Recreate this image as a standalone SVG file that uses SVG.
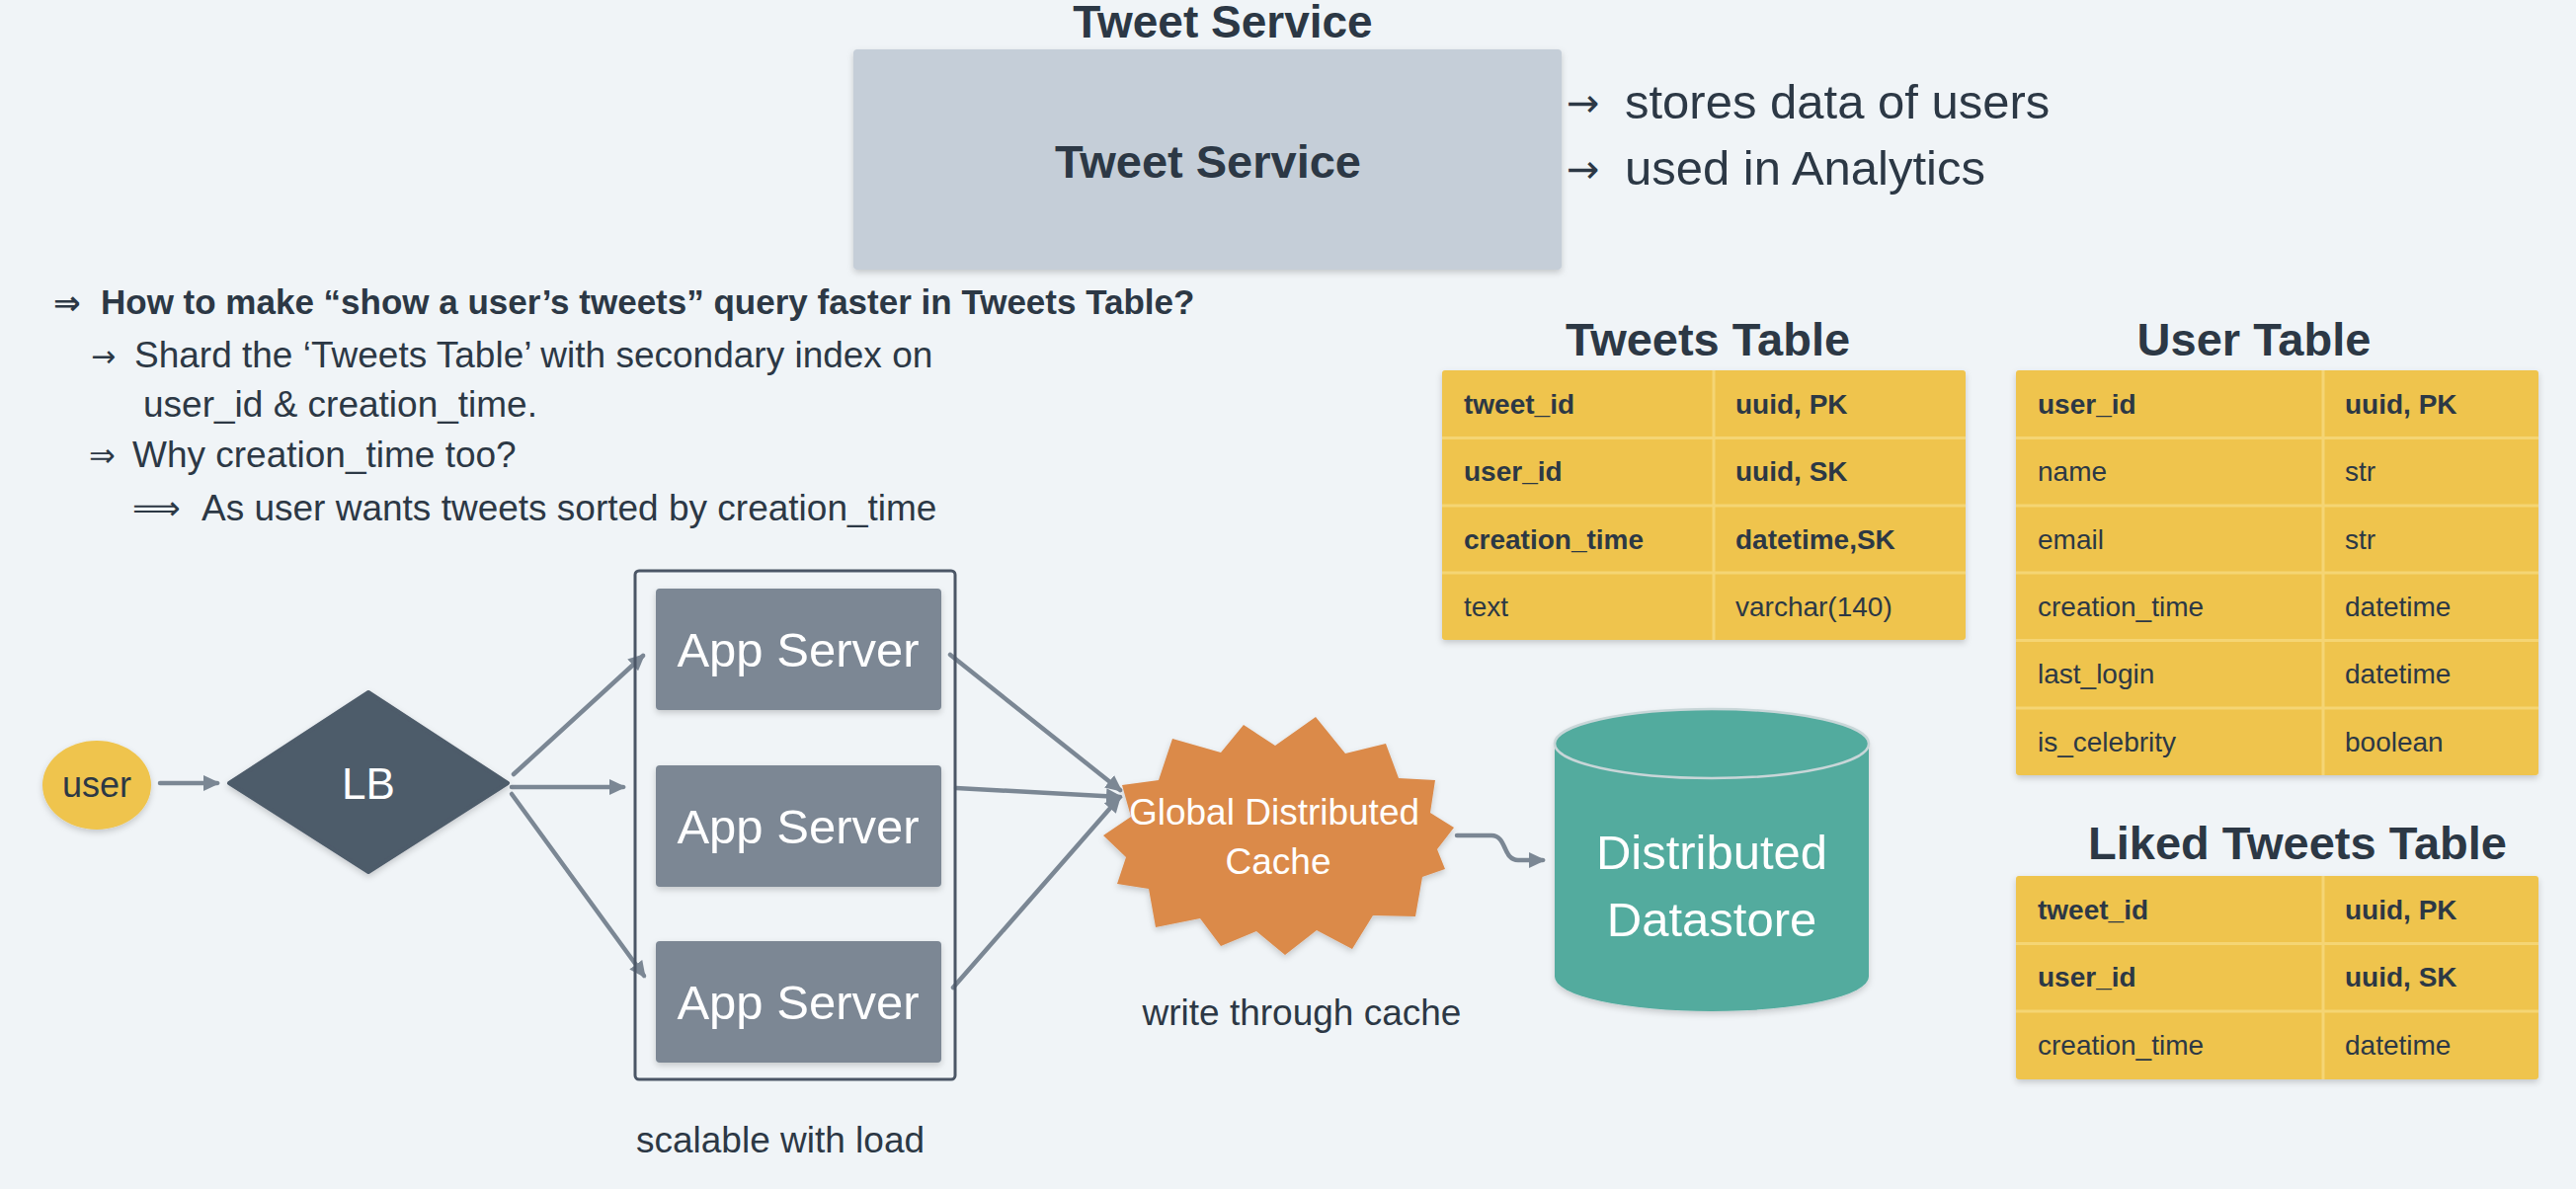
<svg xmlns="http://www.w3.org/2000/svg" width="2608" height="1204" viewBox="0 0 2608 1204">
<style>
text{font-family:"Liberation Sans",Arial,"DejaVu Sans",sans-serif;fill:#2c3845}
.b{font-weight:bold}
.w{fill:#ffffff}
.c{text-anchor:middle}
.ar{font-family:"DejaVu Sans","Liberation Sans",sans-serif}
.t28{font-size:28px}
.t37{font-size:37px}
.t47{font-size:47px}
.t49{font-size:49px}
.conn{fill:none;stroke:#7b8794;stroke-width:4.5;stroke-linecap:round}
.tbl{fill:#efc44e}
.div{stroke:#f5d574;stroke-width:3}
.app{fill:#7b8794}
</style>
<defs>
<filter id="sh" x="-10%" y="-10%" width="120%" height="130%">
<feDropShadow dx="0" dy="3" stdDeviation="3" flood-color="#000" flood-opacity="0.18"/>
</filter>
<marker id="ah" markerUnits="userSpaceOnUse" markerWidth="20" markerHeight="18" refX="14" refY="8" orient="auto">
<path d="M0,0 L17,8 L0,16 z" fill="#7b8794"/>
</marker>
</defs>
<rect width="2608" height="1204" fill="#f0f4f7"/>

<g id="tweet-service">
<text class="b c" font-size="46" x="1238" y="38">Tweet Service</text>
<rect x="864" y="50" width="717" height="223" rx="4" fill="#c5ced8" filter="url(#sh)"/>
<text class="b t47 c" x="1223" y="180">Tweet Service</text>
<text class="ar" font-size="40" x="1586" y="118">→</text>
<text class="t49" x="1645" y="120">stores data of users</text>
<text class="ar" font-size="40" x="1586" y="185">→</text>
<text class="t49" x="1645" y="187">used in Analytics</text>
</g>

<g id="notes">
<text class="b ar" font-size="33" x="54" y="318">⇒</text>
<text class="b" font-size="35" x="102" y="318">How to make “show a user’s tweets” query faster in Tweets Table?</text>
<text class="ar" font-size="30" x="92" y="371">→</text>
<text class="t37" x="136" y="372">Shard the ‘Tweets Table’ with secondary index on</text>
<text class="t37" x="145" y="422">user_id &amp; creation_time.</text>
<text class="ar" font-size="32" x="90" y="472">⇒</text>
<text class="t37" x="134" y="473">Why creation_time too?</text>
<text class="ar" font-size="34" x="134" y="526">⟹</text>
<text class="t37" x="204" y="527">As user wants tweets sorted by creation_time</text>
</g>

<g id="connectors">
<path class="conn" d="M162,793 L220,793" marker-end="url(#ah)"/>
<path class="conn" d="M520,784 L651,664" marker-end="url(#ah)"/>
<path class="conn" d="M518,797 L631,797" marker-end="url(#ah)"/>
<path class="conn" d="M518,804 L652,988" marker-end="url(#ah)"/>
<path class="conn" d="M962,663 L1134,800" marker-end="url(#ah)"/>
<path class="conn" d="M968,798 L1134,807" marker-end="url(#ah)"/>
<path class="conn" d="M965,1000 L1133,808" marker-end="url(#ah)"/>
<path class="conn" d="M1475,846 L1510,846 C1526,846 1521,871 1537,871 L1562,871" marker-end="url(#ah)"/>
</g>

<g id="user">
<ellipse cx="98" cy="795" rx="55" ry="45" fill="#efc44e" filter="url(#sh)"/>
<text class="c" font-size="36" x="98" y="807">user</text>
</g>

<g id="lb">
<path d="M373,701 L514,793 L373,883 L232,793 Z" fill="#4e5b6a" stroke="#4e5b6a" stroke-width="4" stroke-linejoin="round" filter="url(#sh)"/>
<text class="w c" font-size="44" x="373" y="809">LB</text>
</g>

<g id="app-servers">
<rect x="643" y="578" width="324" height="515" rx="4" fill="none" stroke="#4b5666" stroke-width="3"/>
<g id="app-server-1">
<rect class="app" x="664" y="596" width="289" height="123" rx="4" filter="url(#sh)"/>
<text class="w c t49" x="808" y="675">App Server</text>
</g>
<g id="app-server-2">
<rect class="app" x="664" y="775" width="289" height="123" rx="4" filter="url(#sh)"/>
<text class="w c t49" x="808" y="854">App Server</text>
</g>
<g id="app-server-3">
<rect class="app" x="664" y="953" width="289" height="123" rx="4" filter="url(#sh)"/>
<text class="w c t49" x="808" y="1032">App Server</text>
</g>
<text class="c t37" x="790" y="1167">scalable with load</text>
</g>

<g id="cache">
<polygon fill="#db8a4a" filter="url(#sh)" points="1332,726 1362,763 1403,753 1416,788 1453,790 1448,823 1472,838 1455,860 1463,880 1440,888 1433,928 1390,927 1369,961 1333,942 1301,967 1272,943 1236,958 1215,930 1170,939 1163,900 1131,895 1140,868 1117,846 1145,827 1136,795 1173,790 1187,748 1236,762 1259,734 1291,755"/>
<text class="w c t37" x="1290" y="835">Global Distributed</text>
<text class="w c t37" x="1294" y="885">Cache</text>
<text class="c t37" x="1318" y="1038">write through cache</text>
</g>

<g id="datastore">
<path d="M1574,753 A159,35 0 0 1 1892,753 L1892,989 A159,35 0 0 1 1574,989 Z" fill="#52ab9e" filter="url(#sh)"/>
<ellipse cx="1733" cy="753" rx="159" ry="35" fill="#52ab9e" stroke="#c8d6d8" stroke-width="2.5"/>
<text class="w c t49" x="1733" y="880">Distributed</text>
<text class="w c t49" x="1733" y="948">Datastore</text>
</g>

<g id="tweets-table">
<text class="b c t47" x="1729" y="360">Tweets Table</text>
<rect class="tbl" x="1460" y="375" width="530" height="273" rx="3" filter="url(#sh)"/>
<line class="div" x1="1460" y1="443.5" x2="1990" y2="443.5"/>
<line class="div" x1="1460" y1="512" x2="1990" y2="512"/>
<line class="div" x1="1460" y1="580" x2="1990" y2="580"/>
<line class="div" x1="1735" y1="375" x2="1735" y2="648"/>
<text class="b t28" x="1482" y="419">tweet_id</text>
<text class="b t28" x="1757" y="419">uuid, PK</text>
<text class="b t28" x="1482" y="487">user_id</text>
<text class="b t28" x="1757" y="487">uuid, SK</text>
<text class="b t28" x="1482" y="556">creation_time</text>
<text class="b t28" x="1757" y="556">datetime,SK</text>
<text class="t28" x="1482" y="624">text</text>
<text class="t28" x="1757" y="624">varchar(140)</text>
</g>

<g id="user-table">
<text class="b c t47" x="2282" y="360">User Table</text>
<rect class="tbl" x="2041" y="375" width="529" height="410" rx="3" filter="url(#sh)"/>
<line class="div" x1="2041" y1="443.5" x2="2570" y2="443.5"/>
<line class="div" x1="2041" y1="512" x2="2570" y2="512"/>
<line class="div" x1="2041" y1="580" x2="2570" y2="580"/>
<line class="div" x1="2041" y1="648.5" x2="2570" y2="648.5"/>
<line class="div" x1="2041" y1="717" x2="2570" y2="717"/>
<line class="div" x1="2352" y1="375" x2="2352" y2="785"/>
<text class="b t28" x="2063" y="419">user_id</text>
<text class="b t28" x="2374" y="419">uuid, PK</text>
<text class="t28" x="2063" y="487">name</text>
<text class="t28" x="2374" y="487">str</text>
<text class="t28" x="2063" y="556">email</text>
<text class="t28" x="2374" y="556">str</text>
<text class="t28" x="2063" y="624">creation_time</text>
<text class="t28" x="2374" y="624">datetime</text>
<text class="t28" x="2063" y="692">last_login</text>
<text class="t28" x="2374" y="692">datetime</text>
<text class="t28" x="2063" y="761">is_celebrity</text>
<text class="t28" x="2374" y="761">boolean</text>
</g>

<g id="liked-tweets-table">
<text class="b c t47" x="2326" y="870">Liked Tweets Table</text>
<rect class="tbl" x="2041" y="887" width="529" height="206" rx="3" filter="url(#sh)"/>
<line class="div" x1="2041" y1="955.5" x2="2570" y2="955.5"/>
<line class="div" x1="2041" y1="1024" x2="2570" y2="1024"/>
<line class="div" x1="2352" y1="887" x2="2352" y2="1093"/>
<text class="b t28" x="2063" y="931">tweet_id</text>
<text class="b t28" x="2374" y="931">uuid, PK</text>
<text class="b t28" x="2063" y="999">user_id</text>
<text class="b t28" x="2374" y="999">uuid, SK</text>
<text class="t28" x="2063" y="1068">creation_time</text>
<text class="t28" x="2374" y="1068">datetime</text>
</g>
</svg>
